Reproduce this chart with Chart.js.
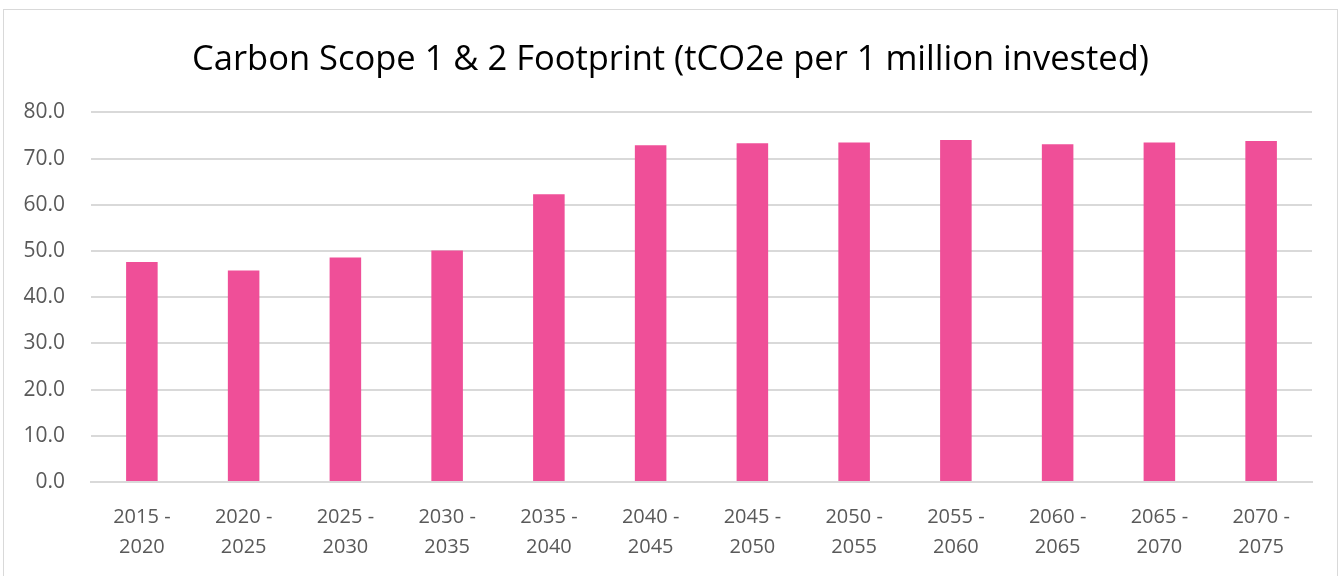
<!DOCTYPE html>
<html>
<head>
<meta charset="utf-8">
<script src="https://cdn.jsdelivr.net/npm/chart.js@4/dist/chart.umd.min.js"></script>
<style>
    body { margin: 0; background: #fff; }
    #wrap { position: relative; width: 1341px; height: 576px; overflow: hidden; }
    #frame { position: absolute; left: 3px; top: 9px; width: 1333px; height: 600px; border: 1px solid #d9d9d9; pointer-events: none; }
</style>
</head>
<body>
<div id="wrap">
    <canvas id="chart" width="1341" height="576"></canvas>
    <div id="frame"></div>
</div>
<script>
const periods = [
    ['2015 -', '2020'], ['2020 -', '2025'], ['2025 -', '2030'], ['2030 -', '2035'],
    ['2035 -', '2040'], ['2040 -', '2045'], ['2045 -', '2050'], ['2050 -', '2055'],
    ['2055 -', '2060'], ['2060 -', '2065'], ['2065 -', '2070'], ['2070 -', '2075']
];
const footprint = [47.6, 45.8, 48.6, 50.1, 62.3, 72.9, 73.3, 73.5, 74.0, 73.1, 73.5, 73.8];
const yTicks = [0, 10, 20, 30, 40, 50, 60, 70, 80];

const font = "'Open Sans', 'Noto Sans', sans-serif";
const grey = '#595959';

let ctx = document.getElementById('chart').getContext('2d');
let myChart = new Chart(ctx, {
    type: 'bar',
    data: {
        labels: periods,
        datasets: [{
            data: footprint,
            backgroundColor: '#ef4f98',
            borderWidth: 0,
            barPercentage: 0.31,
            categoryPercentage: 1
        }]
    },
    options: {
        responsive: false,
        animation: false,
        layout: { padding: { left: 0, right: 0, top: 0, bottom: 0 } },
        plugins: {
            legend: { display: false },
            tooltip: { enabled: false },
            title: {
                display: true,
                text: 'Carbon Scope 1 & 2 Footprint (tCO2e per 1 million invested)',
                color: '#000',
                font: { family: font, size: 34.5, weight: 'normal' },
                padding: { top: 39, bottom: 32 }
            }
        },
        scales: {
            x: {
                grid: { display: false, drawTicks: false },
                border: { color: '#d9d9d9', width: 2 },
                ticks: {
                    color: grey,
                    padding: 20,
                    maxRotation: 0,
                    font: { family: font, size: 20, lineHeight: 1.5 }
                },
                afterFit: function (scale) { scale.height = 94; }
            },
            y: {
                min: 0,
                max: 80,
                afterBuildTicks: function (scale) {
                    scale.ticks = yTicks.map(v => ({ value: v }));
                },
                grid: { color: '#d9d9d9', lineWidth: 2, drawTicks: false },
                border: { display: false },
                ticks: {
                    color: grey,
                    padding: 26,
                    font: { family: font, size: 21 },
                    callback: v => v.toFixed(1)
                },
                afterFit: function (scale) { scale.width = 91; }
            },
            // empty spacer on the right so the plot ends where the reference does
            spacer: {
                type: 'linear',
                position: 'right',
                grid: { display: false, drawTicks: false },
                border: { display: false },
                ticks: { display: false },
                afterFit: function (scale) { scale.width = 29; }
            }
        }
    }
});
</script>
</body>
</html>
